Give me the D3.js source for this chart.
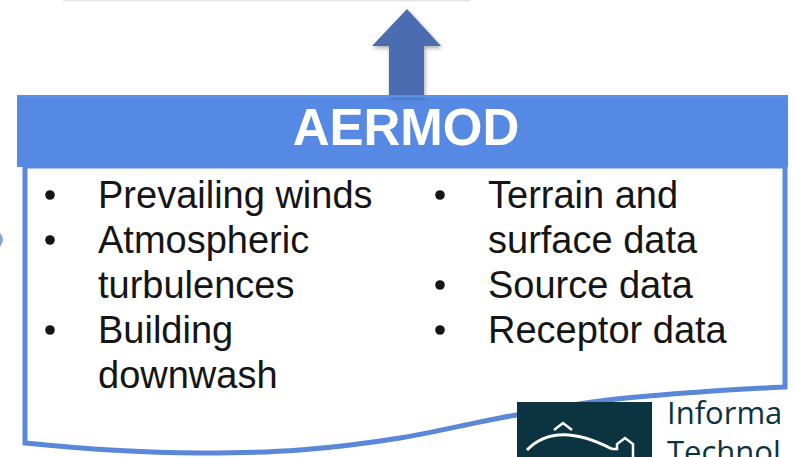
<!DOCTYPE html>
<html lang="en">
<head>
<meta charset="utf-8">
<style>
  html, body { margin: 0; padding: 0; background: #fff; }
  svg { display: block; }
  .item { font-family: "Liberation Sans", Arial, Helvetica, sans-serif; font-size: 38px; fill: #151515; }
</style>
</head>
<body>
<script src="https://d3js.org/d3.v7.min.js"></script>
<script>
// texts of the diagram
var title = "AERMOD";
var leftItems = [
  ["Prevailing winds"],
  ["Atmospheric", "turbulences"],
  ["Building", "downwash"]
];
var rightItems = [
  ["Terrain and", "surface data"],
  ["Source data"],
  ["Receptor data"]
];
var logoLines = ["Informa", "Technol"];

// outline of the wavy bottom edge of the box (left to right)
var waveX = [25, 110, 200, 300, 400, 500, 600, 700, 785];
var waveY = [443, 450, 453, 450, 438, 418, 401, 392, 387];

var W = 794, H = 457;
var svg = d3.select('body').append('svg')
  .attr('width', W)
  .attr('height', H);

var defs = svg.append('defs');
var sh = defs.append('filter').attr('id', 'shadow')
  .attr('x', '-30%').attr('y', '-30%').attr('width', '160%').attr('height', '160%');
sh.append('feDropShadow').attr('dx', 1).attr('dy', 2).attr('stdDeviation', 2)
  .attr('flood-color', '#000').attr('flood-opacity', 0.35);

// faint rule at the very top
svg.append('line')
  .attr('x1', 63).attr('x2', 470).attr('y1', 0.5).attr('y2', 0.5)
  .attr('stroke', '#e2e2e2').attr('stroke-width', 1.5);

// small piece of a blue shape peeking from the left border
svg.append('path')
  .attr('d', 'M0,233 Q6,239 0,247 Z')
  .attr('fill', '#5a7fc4').attr('opacity', 0.7);

// line rows: one band per text line
var rowY = d3.scaleLinear().domain([0, 1]).range([208, 253]);
var bulletX = {left: 50, right: 440};
var textX = {left: 98, right: 488};

// box body with wavy bottom
var pts = waveX.map(function(x, i) { return [x, waveY[i]]; }).reverse();
var bottom = d3.line().curve(d3.curveCatmullRom)(pts);
var outline = 'M25,166 L785,166 L' + bottom.slice(1) + ' Z';
svg.append('path')
  .attr('d', outline)
  .attr('fill', '#fff')
  .attr('stroke', '#5a87d8')
  .attr('stroke-width', 5)
  .attr('stroke-linejoin', 'miter');

// header bar
svg.append('rect')
  .attr('x', 17).attr('y', 95).attr('width', 771).attr('height', 72)
  .attr('fill', '#5689e3');

// arrow up from the header
var ax = 407;
svg.append('path')
  .attr('d', 'M' + ax + ',9 L' + (ax + 34) + ',46 L' + (ax + 17) + ',46 L' + (ax + 17) + ',96 L' +
    (ax - 18) + ',96 L' + (ax - 18) + ',46 L' + (ax - 35) + ',46 Z')
  .attr('fill', '#4b6cb0')
  .attr('filter', 'url(#shadow)');
svg.append('rect')
  .attr('x', 17).attr('y', 95).attr('width', 771).attr('height', 3)
  .attr('fill', '#5a8fe8');

svg.append('text')
  .attr('x', 406).attr('y', 145)
  .attr('text-anchor', 'middle')
  .attr('font-family', '"Liberation Sans", Arial, Helvetica, sans-serif')
  .attr('font-weight', 'bold')
  .attr('font-size', 51)
  .attr('fill', '#fff')
  .text(title);

function drawColumn(items, side) {
  var line = 0;
  items.forEach(function(it) {
    svg.append('circle')
      .attr('cx', bulletX[side]).attr('cy', rowY(line) - 13)
      .attr('r', 4.8).attr('fill', '#151515');
    it.forEach(function(t) {
      svg.append('text')
        .attr('class', 'item')
        .attr('x', textX[side]).attr('y', rowY(line))
        .text(t);
      line++;
    });
  });
}
drawColumn(leftItems, 'left');
drawColumn(rightItems, 'right');

// logo in the lower right corner
var logo = svg.append('g');
logo.append('rect')
  .attr('x', 517).attr('y', 402).attr('width', 135).attr('height', 60)
  .attr('fill', '#0c3340');
logo.append('path')
  .attr('d', 'M527,450 Q556,420 612,449')
  .attr('fill', 'none').attr('stroke', '#fff').attr('stroke-width', 3);
logo.append('path')
  .attr('d', 'M554,430 L563,423 L572,430')
  .attr('fill', 'none').attr('stroke', '#fff').attr('stroke-width', 2.5);
logo.append('path')
  .attr('d', 'M612,449 L617,449 L617,444 L625,438 L633,444 L633,460 L617,460')
  .attr('fill', 'none').attr('stroke', '#fff').attr('stroke-width', 2.5);
logo.selectAll('text.logo')
  .data(logoLines)
  .enter().append('text')
  .attr('class', 'logo')
  .attr('x', 667)
  .attr('y', function(d, i) { return 424 + i * 39; })
  .attr('font-family', '"Open Sans", "Noto Sans", sans-serif')
  .attr('font-size', 31)
  .attr('fill', '#0c3340')
  .text(function(d) { return d; });
</script>
</body>
</html>
